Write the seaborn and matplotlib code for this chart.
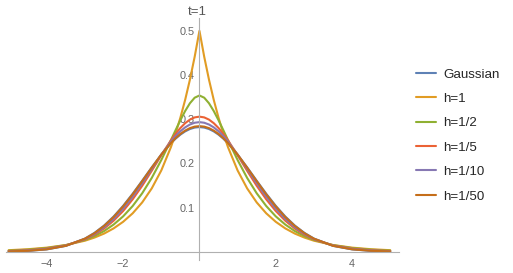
import numpy as np
import pandas as pd
import matplotlib
matplotlib.use("Agg")
import matplotlib.pyplot as plt
import seaborn as sns
from matplotlib.ticker import MultipleLocator, FixedLocator

# x positions where the curves were read
x = [-5, -4.5, -4, -3.5, -3, -2.75, -2.5, -2.25, -2, -1.75, -1.5, -1.25, -1,
     -0.75, -0.625, -0.5, -0.375, -0.25, -0.125, 0, 0.125, 0.25, 0.375, 0.5,
     0.625, 0.75, 1, 1.25, 1.5, 1.75, 2, 2.25, 2.5, 2.75, 3, 3.5, 4, 4.5, 5]

gaussian = [0.0005, 0.0018, 0.0052, 0.0132, 0.0297, 0.0426, 0.0591, 0.0796, 0.1038, 0.1312,
            0.1607, 0.1909, 0.2197, 0.2451, 0.2559, 0.2650, 0.2723, 0.2777, 0.2810, 0.2821,
            0.2810, 0.2777, 0.2723, 0.2650, 0.2559, 0.2451, 0.2197, 0.1909, 0.1607, 0.1312,
            0.1038, 0.0796, 0.0591, 0.0426, 0.0297, 0.0132, 0.0052, 0.0018, 0.0005]
h_1 = [0.0034, 0.0056, 0.0092, 0.0151, 0.0249, 0.0320, 0.0410, 0.0527, 0.0677, 0.0869,
       0.1116, 0.1433, 0.1839, 0.2362, 0.2676, 0.3033, 0.3436, 0.3894, 0.4413, 0.5000,
       0.4413, 0.3894, 0.3436, 0.3033, 0.2676, 0.2362, 0.1839, 0.1433, 0.1116, 0.0869,
       0.0677, 0.0527, 0.0410, 0.0320, 0.0249, 0.0151, 0.0092, 0.0056, 0.0034]
h_2 = [0.0024, 0.0045, 0.0082, 0.0149, 0.0266, 0.0354, 0.0467, 0.0614, 0.0800, 0.1034,
       0.1323, 0.1670, 0.2075, 0.2522, 0.2752, 0.2976, 0.3184, 0.3360, 0.3486, 0.3536,
       0.3486, 0.3360, 0.3184, 0.2976, 0.2752, 0.2522, 0.2075, 0.1670, 0.1323, 0.1034,
       0.0800, 0.0614, 0.0467, 0.0354, 0.0266, 0.0149, 0.0082, 0.0045, 0.0024]
h_5 = [0.0015, 0.0032, 0.0069, 0.0142, 0.0280, 0.0386, 0.0524, 0.0701, 0.0921, 0.1186,
       0.1493, 0.1832, 0.2183, 0.2518, 0.2668, 0.2800, 0.2909, 0.2990, 0.3040, 0.3057,
       0.3040, 0.2990, 0.2909, 0.2800, 0.2668, 0.2518, 0.2183, 0.1832, 0.1493, 0.1186,
       0.0921, 0.0701, 0.0524, 0.0386, 0.0280, 0.0142, 0.0069, 0.0032, 0.0015]
h_10 = [0.0010, 0.0026, 0.0062, 0.0138, 0.0288, 0.0403, 0.0553, 0.0743, 0.0975, 0.1247,
        0.1552, 0.1876, 0.2198, 0.2491, 0.2617, 0.2726, 0.2814, 0.2879, 0.2919, 0.2933,
        0.2919, 0.2879, 0.2814, 0.2726, 0.2617, 0.2491, 0.2198, 0.1876, 0.1552, 0.1247,
        0.0975, 0.0743, 0.0553, 0.0403, 0.0288, 0.0138, 0.0062, 0.0026, 0.0010]
h_50 = [0.0007, 0.0020, 0.0054, 0.0133, 0.0295, 0.0420, 0.0583, 0.0784, 0.1025, 0.1299,
        0.1597, 0.1903, 0.2198, 0.2459, 0.2570, 0.2665, 0.2741, 0.2797, 0.2831, 0.2842,
        0.2831, 0.2797, 0.2741, 0.2665, 0.2570, 0.2459, 0.2198, 0.1903, 0.1597, 0.1299,
        0.1025, 0.0784, 0.0583, 0.0420, 0.0295, 0.0133, 0.0054, 0.0020, 0.0007]

labels = ["Gaussian", "h=1", "h=1/2", "h=1/5", "h=1/10", "h=1/50"]
series = [gaussian, h_1, h_2, h_5, h_10, h_50]
colors = ["#5E81B5", "#E19C24", "#8FB032", "#EB6235", "#8778B3", "#C56E1A"]

df = pd.concat([pd.DataFrame({"x": x, "y": s, "curve": lab}) for lab, s in zip(labels, series)])

sns.set_style("white")
plt.rcParams["font.family"] = ["Liberation Sans", "DejaVu Sans"]

fig = plt.figure(figsize=(5.13, 2.73), dpi=100)
ax = fig.add_axes([6 / 513, 13 / 273, 393 / 513, 242 / 273])

sns.lineplot(data=df, x="x", y="y", hue="curve", hue_order=labels, palette=colors,
             estimator=None, sort=False, linewidth=1.5, ax=ax)

ax.set_xlim(-5.07, 5.23)
ax.set_ylim(-0.0188, 0.529)

# axes through the origin, Mathematica style
for side in ["top", "right"]:
    ax.spines[side].set_visible(False)
ax.spines["left"].set_position(("data", 0))
ax.spines["bottom"].set_position(("data", 0))
for side in ["left", "bottom"]:
    ax.spines[side].set_color("#b0b0b0")
    ax.spines[side].set_linewidth(0.8)

ax.xaxis.set_major_locator(FixedLocator([-4, -2, 2, 4]))
ax.xaxis.set_minor_locator(MultipleLocator(0.5))
ax.yaxis.set_major_locator(FixedLocator([0.1, 0.2, 0.3, 0.4, 0.5]))
ax.yaxis.set_minor_locator(MultipleLocator(0.02))
ax.set_xticklabels(["\u22124", "\u22122", "2", "4"])
ax.set_yticklabels(["0.1", "0.2", "0.3", "0.4", "0.5"])
ax.tick_params(which="both", direction="in", color="#b0b0b0", width=0.7,
               labelsize=7.8, labelcolor="#666666")
ax.tick_params(which="major", length=3.2, pad=3.5)
ax.tick_params(axis="x", which="major", pad=5)
ax.tick_params(which="minor", length=1.8)
ax.set_xlabel("")
ax.set_ylabel("")

ax.annotate("t=1", xy=(0, 1), xycoords=("data", "axes fraction"),
            xytext=(-1.5, 2.5), textcoords="offset points",
            ha="center", va="baseline", fontsize=9.5, color="#555555")

ax.legend(loc="center left", bbox_to_anchor=(410.5 / 513, 1 - 135.5 / 273),
          bbox_transform=fig.transFigure, frameon=False, fontsize=9.6,
          handlelength=1.5, handletextpad=0.55, labelspacing=0.9,
          borderaxespad=0)

fig.savefig("out.png", dpi=100)
